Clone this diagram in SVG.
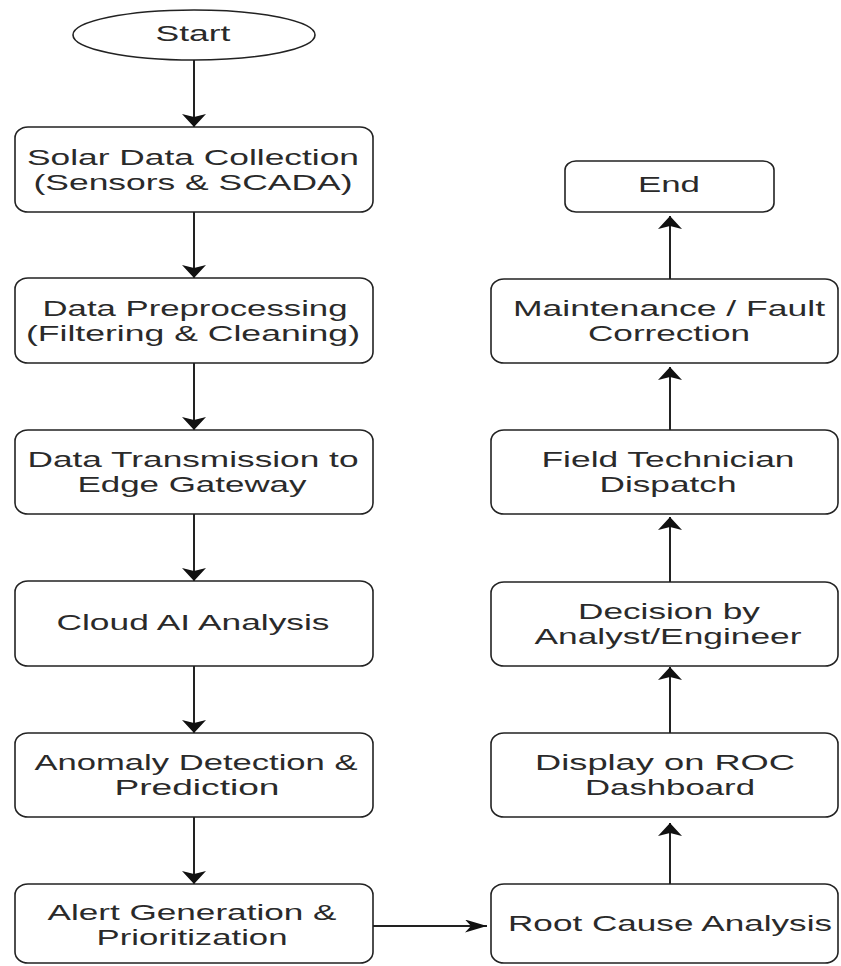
<svg xmlns="http://www.w3.org/2000/svg" width="841" height="966" viewBox="0 0 841 966">
<style>
.box{fill:#fff;stroke:#222;stroke-width:1.6}
.t{font-family:"Liberation Sans",Arial,sans-serif;font-size:22px;fill:#2a2a2a;text-anchor:middle}
.edge{fill:none;stroke:#222;stroke-width:2}
</style>
<defs>
<marker id="av" markerUnits="userSpaceOnUse" markerWidth="16" markerHeight="26" refX="13" refY="12" orient="auto" viewBox="0 0 16 26">
<path d="M0,0 L13,12 L0,24 L3,12 z" fill="#111"/>
</marker>
<marker id="ah" markerUnits="userSpaceOnUse" markerWidth="24" markerHeight="14" refX="22" refY="6.5" orient="auto" viewBox="0 0 24 14">
<path d="M0,0 L22,6.5 L0,13 L6,6.5 z" fill="#111"/>
</marker>
</defs>
<rect width="841" height="966" fill="#fff"/>
<g id="connectors">
<line class="edge" x1="194" y1="60" x2="194" y2="127" marker-end="url(#av)"/>
<line class="edge" x1="194" y1="212" x2="194" y2="278" marker-end="url(#av)"/>
<line class="edge" x1="194" y1="363" x2="194" y2="430" marker-end="url(#av)"/>
<line class="edge" x1="194" y1="514" x2="194" y2="581" marker-end="url(#av)"/>
<line class="edge" x1="194" y1="666" x2="194" y2="733" marker-end="url(#av)"/>
<line class="edge" x1="194" y1="817" x2="194" y2="884" marker-end="url(#av)"/>
<line class="edge" x1="373" y1="926" x2="487" y2="926" marker-end="url(#ah)"/>
<line class="edge" x1="670" y1="884" x2="670" y2="823" marker-end="url(#av)"/>
<line class="edge" x1="670" y1="733" x2="670" y2="667" marker-end="url(#av)"/>
<line class="edge" x1="670" y1="582" x2="670" y2="517" marker-end="url(#av)"/>
<line class="edge" x1="670" y1="430" x2="670" y2="367" marker-end="url(#av)"/>
<line class="edge" x1="670" y1="279" x2="670" y2="216" marker-end="url(#av)"/>
</g>
<g id="start">
<ellipse class="box" cx="194" cy="35" rx="121" ry="25"/>
<text class="t" transform="scale(1.6,1)" x="120.625" y="41" textLength="46.875" lengthAdjust="spacingAndGlyphs">Start</text>
</g>
<g id="collection">
<rect class="box" x="15" y="127" width="358" height="85" rx="13" ry="11"/>
<text class="t" transform="scale(1.6,1)" x="120.625" y="165" textLength="207.5" lengthAdjust="spacingAndGlyphs">Solar Data Collection</text>
<text class="t" transform="scale(1.6,1)" x="120.625" y="190" textLength="199.375" lengthAdjust="spacingAndGlyphs">(Sensors &amp; SCADA)</text>
</g>
<g id="preprocessing">
<rect class="box" x="15" y="278" width="358" height="85" rx="13" ry="11"/>
<text class="t" transform="scale(1.6,1)" x="121.875" y="316" textLength="190.625" lengthAdjust="spacingAndGlyphs">Data Preprocessing</text>
<text class="t" transform="scale(1.6,1)" x="120.625" y="341" textLength="208.75" lengthAdjust="spacingAndGlyphs">(Filtering &amp; Cleaning)</text>
</g>
<g id="transmission">
<rect class="box" x="15" y="430" width="358" height="84" rx="13" ry="11"/>
<text class="t" transform="scale(1.6,1)" x="120.625" y="467" textLength="206.875" lengthAdjust="spacingAndGlyphs">Data Transmission to</text>
<text class="t" transform="scale(1.6,1)" x="120" y="492" textLength="143.125" lengthAdjust="spacingAndGlyphs">Edge Gateway</text>
</g>
<g id="cloud">
<rect class="box" x="15" y="581" width="358" height="85" rx="13" ry="11"/>
<text class="t" transform="scale(1.6,1)" x="120.625" y="630" textLength="170.625" lengthAdjust="spacingAndGlyphs">Cloud AI Analysis</text>
</g>
<g id="anomaly">
<rect class="box" x="15" y="733" width="358" height="84" rx="13" ry="11"/>
<text class="t" transform="scale(1.6,1)" x="122.5" y="770" textLength="201.875" lengthAdjust="spacingAndGlyphs">Anomaly Detection &amp;</text>
<text class="t" transform="scale(1.6,1)" x="123.125" y="795" textLength="103.125" lengthAdjust="spacingAndGlyphs">Prediction</text>
</g>
<g id="alert">
<rect class="box" x="15" y="884" width="358" height="79" rx="13" ry="11"/>
<text class="t" transform="scale(1.6,1)" x="120" y="920" textLength="180.625" lengthAdjust="spacingAndGlyphs">Alert Generation &amp;</text>
<text class="t" transform="scale(1.6,1)" x="120" y="945" textLength="119.375" lengthAdjust="spacingAndGlyphs">Prioritization</text>
</g>
<g id="rootcause">
<rect class="box" x="491" y="884" width="347" height="79" rx="13" ry="11"/>
<text class="t" transform="scale(1.6,1)" x="418.75" y="931" textLength="202.5" lengthAdjust="spacingAndGlyphs">Root Cause Analysis</text>
</g>
<g id="display">
<rect class="box" x="491" y="733" width="347" height="84" rx="13" ry="11"/>
<text class="t" transform="scale(1.6,1)" x="415.625" y="770" textLength="162.5" lengthAdjust="spacingAndGlyphs">Display on ROC</text>
<text class="t" transform="scale(1.6,1)" x="418.75" y="795" textLength="106.25" lengthAdjust="spacingAndGlyphs">Dashboard</text>
</g>
<g id="decision">
<rect class="box" x="491" y="582" width="347" height="84" rx="13" ry="11"/>
<text class="t" transform="scale(1.6,1)" x="418.125" y="619" textLength="113.75" lengthAdjust="spacingAndGlyphs">Decision by</text>
<text class="t" transform="scale(1.6,1)" x="417.5" y="644" textLength="166.875" lengthAdjust="spacingAndGlyphs">Analyst/Engineer</text>
</g>
<g id="field">
<rect class="box" x="491" y="430" width="347" height="84" rx="13" ry="11"/>
<text class="t" transform="scale(1.6,1)" x="417.5" y="467" textLength="158.125" lengthAdjust="spacingAndGlyphs">Field Technician</text>
<text class="t" transform="scale(1.6,1)" x="417.5" y="492" textLength="85.625" lengthAdjust="spacingAndGlyphs">Dispatch</text>
</g>
<g id="maintenance">
<rect class="box" x="491" y="279" width="347" height="84" rx="13" ry="11"/>
<text class="t" transform="scale(1.6,1)" x="418.125" y="316" textLength="195" lengthAdjust="spacingAndGlyphs">Maintenance / Fault</text>
<text class="t" transform="scale(1.6,1)" x="418.125" y="341" textLength="101.25" lengthAdjust="spacingAndGlyphs">Correction</text>
</g>
<g id="end">
<rect class="box" x="565" y="161" width="209" height="51" rx="11" ry="9"/>
<text class="t" transform="scale(1.6,1)" x="418.125" y="192" textLength="38.75" lengthAdjust="spacingAndGlyphs">End</text>
</g>
</svg>
